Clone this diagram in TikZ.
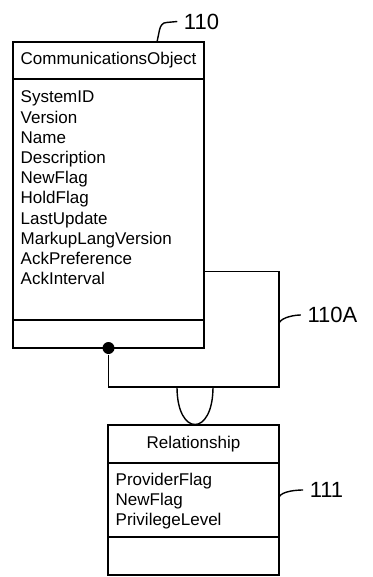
\documentclass[tikz,border=0pt]{standalone}
\usepackage{fontspec}
\setmainfont{Liberation Sans}
\usetikzlibrary{positioning}

\tikzset{
  cls/.style={draw, inner sep=0pt, outer sep=0pt, minimum width=#1},
  attr/.style={anchor=base west, inner sep=0pt},
  refnum/.style={inner sep=6pt, font=\fontsize{22}{26}\selectfont},
}

\begin{document}
\begin{tikzpicture}[x=1pt, y=-1pt, line width=1.4pt, every node/.style={font=\fontsize{17}{20}\selectfont}]
    \useasboundingbox (0,0) rectangle (372,577);

    % CommunicationsObject class
    \node[cls=191pt, minimum height=37pt] (commHead) at (108.5,60.5) {CommunicationsObject};
    \node[cls=191pt, minimum height=241pt, below=0pt of commHead] (commAttr) {};
    \node[cls=191pt, minimum height=28pt, below=0pt of commAttr] (commFoot) {};
    \foreach \name [count=\i from 0] in {SystemID, Version, Name, Description, NewFlag,
        HoldFlag, LastUpdate, MarkupLangVersion, AckPreference, AckInterval}
        \node[attr] (commA\i) at (20,103+20.2*\i) {\name};

    % Relationship class
    \node[cls=171pt, minimum height=38pt] (relHead) at (193.5,444) {Relationship};
    \node[cls=171pt, minimum height=74pt, below=0pt of relHead] (relAttr) {};
    \node[cls=171pt, minimum height=38pt, below=0pt of relAttr] (relFoot) {};
    \foreach \name [count=\i from 0] in {ProviderFlag, NewFlag, PrivilegeLevel}
        \node[attr] (relA\i) at (115,485+20*\i) {\name};

    % self association with the relationship class hanging from it
    \node[circle, fill, inner sep=0pt, minimum size=12pt] (selfDot) at (commFoot.south) {};
    \coordinate (selfR) at (279,271.7);
    \coordinate (selfB) at (279,387);
    \draw (commAttr.east |- selfR) -- (selfR) -- (selfB) -- (selfDot |- selfB) -- (selfDot);
    \coordinate (arcL) at (177,387);
    \coordinate (arcR) at (213,387);
    \draw (arcL) .. controls +(0,50) and +(0,50) .. (arcR);

    % reference numerals
    \node[refnum] (num110) at (201.5,21.5) {110};
    \draw ([xshift=48.5pt]commHead.north) -- ++(2.5,-12)
        .. controls +(0.8,-4) and +(-4,0) .. ++(7,-7.5) -- (num110.west);
    \node[refnum] (num110A) at (332.5,315) {110A};
    \coordinate (tick110A) at (279,323);
    \draw (tick110A) .. controls +(3,-6) and +(-6,0) .. (num110A.west);
    \node[refnum] (num111) at (326.5,490) {111};
    \draw ([yshift=3pt]relAttr.east) .. controls +(3,-6) and +(-6,0) .. (num111.west);
\end{tikzpicture}
\end{document}
